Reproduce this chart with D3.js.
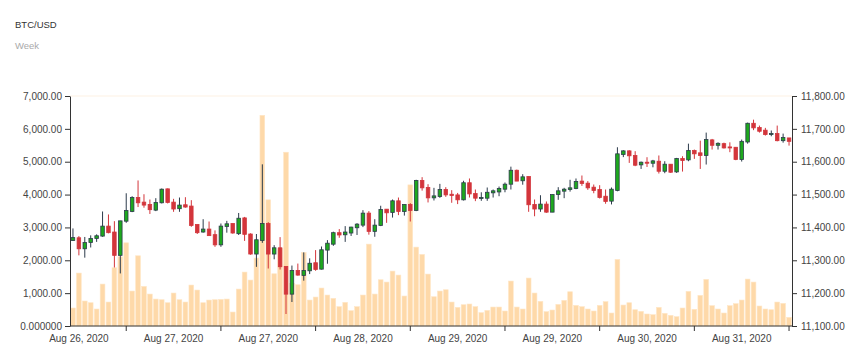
<!DOCTYPE html>
<html>
<head>
<meta charset="utf-8">
<script src="https://cdn.jsdelivr.net/npm/d3@7"></script>
<style>
  body { margin: 0; background: #fff; }
  svg text { font-family: Arial, "Liberation Sans", sans-serif; }
  .axis path, .axis line { stroke: #333; }
  .axis text { fill: #444; font-size: 10px; }
</style>
</head>
<body>
<svg id="chart" width="865" height="354"></svg>
<script>
// hourly candles
let opens = [11360,11368.5,11335,11354,11366.5,11373.6,11404,11386,11315,11419,11448.5,11491,11477,11470,11452.6,11475,11517.4,11477,11457,11469,
  11465,11409,11386,11395,11378,11347,11403,11412,11381,11429,11380,11319,11360,11412,11319,11338,11281.4,11197,11269,11254,
  11268,11292.5,11273,11331,11349,11384,11377.6,11383,11399,11407,11443.5,11388,11406,11455.6,11445.5,11481,11448.5,11470,11451.6,11543,
  11521.5,11490,11494,11515.4,11501,11499,11484,11536,11503,11488,11489,11505.3,11508,11516.4,11531.6,11574,11542,11555,11470,11456,
  11471,11446.5,11500,11510.4,11515.4,11518.5,11541,11534.7,11522.5,11515.4,11495,11480,11512.4,11622,11633,11619,11590.4,11598.5,11595.4,11601.5,
  11571,11592.4,11569,11609.6,11605.6,11634,11627,11619,11666.4,11650,11655,11645,11644,11606.6,11660,11717,11704,11696,11682.6,11685.6,
  11664,11672.4];
let highs = [11397,11373.6,11371,11376,11379,11448.5,11439.5,11419,11420,11504,11495,11543,11501,11485,11489,11518.5,11518.5,11487,11491,11492,
  11483,11409,11425,11418,11391,11412,11420,11412,11444,11432,11382,11380,11592,11416,11346,11370.5,11281.4,11284,11290,11324,
  11306,11331,11342,11361.4,11387,11395,11404,11402,11413,11452.6,11449.6,11425,11466,11455.6,11485,11491,11470,11474,11545,11553,
  11531.6,11520.5,11532.6,11522.5,11513.4,11505,11542,11549,11515.4,11507,11521.5,11515.4,11524.5,11536.7,11585,11576,11562,11555,11485,11498,
  11479,11500,11522.5,11520.5,11545,11549,11558,11541,11530.6,11528.6,11515.4,11521.5,11644,11635,11635,11632,11600.5,11613.7,11605.6,11619,
  11601.5,11592.4,11611.6,11616.7,11655,11637,11664,11688.6,11669.4,11659,11658,11659,11644,11667.4,11719,11728,11710,11703,11695,11710,
  11685.6,11672.4];
let lows = [11359,11315,11308,11339,11356,11371.6,11382,11278,11260,11414,11446.5,11462,11460,11441,11449.6,11473,11473,11447.5,11447.5,11460,
  11402,11380,11384,11374,11341,11341,11384,11381,11377,11359,11317,11280,11353,11275,11303,11272,11136.5,11173,11253,11238,
  11258,11268,11272,11289.5,11344,11368.5,11356,11374,11377,11401,11378,11371.6,11404,11414,11430,11437.4,11436,11418,11449.6,11512,
  11476,11482,11490,11493,11475,11471,11482,11491,11480,11481,11481,11491,11495,11507,11515.4,11541,11530,11447.5,11434,11447.5,
  11444.5,11446.5,11484,11489,11509,11516.4,11526.5,11514.4,11504,11488,11472,11470,11510,11614,11596.4,11586.4,11578,11584,11583,11564,
  11565,11566,11566,11570,11601.5,11608.6,11578,11591.4,11637,11637,11640,11629,11604.6,11600.5,11655,11696,11688.6,11679.5,11677.5,11662,
  11658,11649];
let closes = [11369,11335,11354,11366.5,11374.6,11404,11384,11315,11420,11451.6,11491,11475,11468,11454,11476,11516.4,11476,11456,11468,11462,
  11406,11384,11395,11375,11347,11404,11411,11383,11428,11379,11319,11362.5,11412,11319,11338,11280.4,11197,11269,11255,11269,
  11291,11272,11332,11352,11384,11377,11386,11401,11410,11443.5,11388,11407,11454.6,11444.5,11481,11448.5,11470,11451.6,11543,11520.5,
  11490,11496,11515.4,11499,11497,11484,11536,11502,11489,11491,11507,11511.4,11518.5,11531.6,11574,11541,11554,11469,11456,11471,
  11446.5,11500,11511.4,11516.4,11520.5,11539.7,11533.6,11520.5,11512.4,11491,11479,11516.4,11624,11633,11618,11589.4,11598.5,11595.4,11602.5,11571,
  11592.4,11568,11609.6,11603.5,11634,11624,11619,11667.4,11650,11656,11642,11642,11606.6,11662,11717,11703,11692.7,11682.6,11685.6,11664,
  11673.4,11662];
let volumes = [547,1611,760,709,517,1276,729,1773,2107,2532,1064,2137,1205,972,820,800,709,1003,800,729,
  1246,1094,709,790,800,810,820,425,1124,1641,1398,2067,6412,3840,1590,2360,5289,1300,1256,2240,
  790,881,1155,942,841,588,719,466,588,942,2492,972,1408,1337,1671,1550,912,4295,2401,2178,
  1580,891,1064,1104,729,567,648,669,588,405,476,577,577,456,1368,577,517,1459,1003,750,
  436,486,658,780,1043,628,588,517,456,628,740,395,2026,638,709,496,446,365,344,567,
  385,324,284,547,1054,507,932,1418,618,517,395,618,679,790,1428,1337,608,517,496,729,
  689,263];

let dateLabels = ["Aug 26, 2020","Aug 27, 2020","Aug 27, 2020","Aug 28, 2020","Aug 29, 2020","Aug 29, 2020","Aug 30, 2020","Aug 31, 2020"];
let tickIdx = [9,25,41,57,73,89,105,121];
let volTicks = [0,1000,2000,3000,4000,5000,6000,7000];
let priceTicks = [11100,11200,11300,11400,11500,11600,11700,11800];

let svg = d3.select("#chart"),
    margin = {top: 96, right: 73, bottom: 28, left: 70},
    width = +svg.attr("width"),
    height = +svg.attr("height");

let x = d3.scaleBand()
    .domain(d3.range(opens.length))
    .range([margin.left, width - margin.right])
    .paddingInner(0.2)
    .paddingOuter(0.1);

let yVol = d3.scaleLinear().domain([0, 7000]).range([height - margin.bottom, margin.top]);
let yPrice = d3.scaleLinear().domain([11100, 11800]).range([height - margin.bottom, margin.top]);

// title
svg.append("text").attr("x", 15).attr("y", 28).attr("fill", "#333").style("font-size", "9.5px").text("BTC/USD");
svg.append("text").attr("x", 15).attr("y", 49).attr("fill", "#aaa").style("font-size", "9.5px").text("Week");

// faint top line
svg.append("line")
    .attr("x1", margin.left).attr("x2", width - margin.right)
    .attr("y1", yVol(7000)).attr("y2", yVol(7000))
    .attr("stroke", "#fdf1e3");

// volume
svg.selectAll("rect.vol")
    .data(volumes)
    .enter()
    .append("rect")
    .attr("class", "vol")
    .attr("x", (d, i) => x(i))
    .attr("y", d => yVol(d))
    .attr("width", x.bandwidth())
    .attr("height", d => yVol(0) - yVol(d))
    .attr("fill", "#fed9a9")
    .attr("stroke", "#ffe6c6")
    .attr("stroke-width", 0.6);

let candles = opens.map((o, i) => ({i: i, open: o, high: highs[i], low: lows[i], close: closes[i]}));
let bodyW = x.step() * 0.6;
let green = "#1ea81e", red = "#d3353b", dark = "#2c3b4b";

svg.selectAll("line.wick")
    .data(candles)
    .enter()
    .append("line")
    .attr("class", "wick")
    .attr("x1", d => x(d.i) + x.bandwidth() / 2)
    .attr("x2", d => x(d.i) + x.bandwidth() / 2)
    .attr("y1", d => yPrice(d.high))
    .attr("y2", d => yPrice(d.low))
    .attr("stroke", d => d.close >= d.open ? dark : red)
    .attr("stroke-width", 1);

svg.selectAll("rect.body")
    .data(candles)
    .enter()
    .append("rect")
    .attr("class", "body")
    .attr("x", d => x(d.i) + (x.bandwidth() - bodyW) / 2)
    .attr("y", d => yPrice(Math.max(d.open, d.close)))
    .attr("width", bodyW)
    .attr("height", d => Math.max(1, Math.abs(yPrice(d.open) - yPrice(d.close))))
    .attr("fill", d => d.close >= d.open ? green : red)
    .attr("stroke", d => d.close >= d.open ? dark : red)
    .attr("stroke-width", 0.8);

// axes
svg.append("g")
    .attr("class", "axis")
    .attr("transform", "translate(" + margin.left + ",0)")
    .call(d3.axisLeft(yVol).tickValues(volTicks).tickSize(5).tickPadding(3).tickSizeOuter(0)
        .tickFormat(d => d === 0 ? "0.000000" : d3.format(",.2f")(d)));

svg.append("g")
    .attr("class", "axis")
    .attr("transform", "translate(" + (width - margin.right) + ",0)")
    .call(d3.axisRight(yPrice).tickValues(priceTicks).tickSize(5).tickPadding(4).tickSizeOuter(0)
        .tickFormat(d3.format(",.2f")));

let xAxis = svg.append("g")
    .attr("class", "axis")
    .attr("transform", "translate(0," + (height - margin.bottom) + ")")
    .call(d3.axisBottom(x).tickValues(tickIdx).tickSize(5).tickPadding(4).tickSizeOuter(0)
        .tickFormat((d, k) => dateLabels[k]));

xAxis.selectAll(".tick text").attr("x", -8 * x.step());
xAxis.select(".domain").attr("d", "M" + margin.left + ",0H" + (width - margin.right));
</script>
</body>
</html>
